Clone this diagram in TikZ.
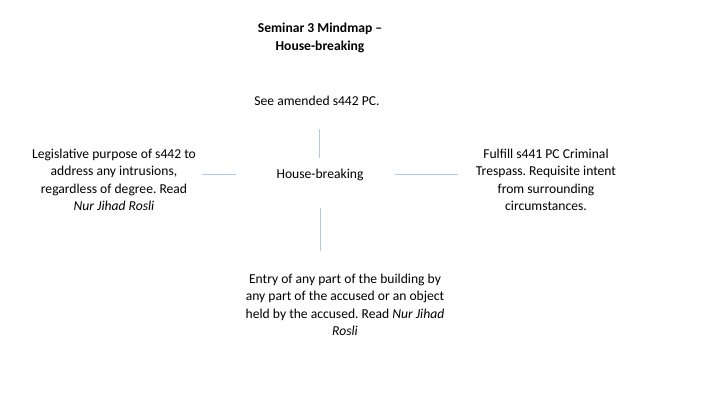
\documentclass[tikz,border=0pt]{standalone}
\usepackage{fontspec}
\setmainfont{Carlito}
\begin{document}
\frenchspacing
\begin{tikzpicture}[x=1pt,y=-1pt,
  txt/.style={align=center,font=\fontsize{13.6}{17.4}\selectfont,inner sep=0pt},
  conn/.style={draw={rgb,255:red,175;green,200;blue,228},line width=0.7pt}]
\useasboundingbox (0,0) rectangle (720,405);
\node[txt,font=\bfseries\fontsize{13.6}{17.4}\selectfont] (title) at (320,38) {Seminar 3 Mindmap –\\House-breaking};
\node[txt] (see) at (317,101) {See amended s442 PC.};
\node[txt] (hb) at (320,175) {House-breaking};
\node[txt] (left) at (114,180) {Legislative purpose of s442 to\\address any intrusions,\\regardless of degree. Read\\\textit{Nur Jihad Rosli}};
\node[txt] (right) at (546,180) {Fulfill s441 PC Criminal\\Trespass. Requisite intent\\from surrounding\\circumstances.};
\node[txt] (bot) at (345,305) {Entry of any part of the building by\\any part of the accused or an object\\held by the accused. Read \textit{Nur Jihad}\\\textit{Rosli}};
\coordinate (t1) at (319,129); \coordinate (t2) at (319,158);
\coordinate (l1) at (202,174); \coordinate (l2) at (236,174);
\coordinate (r1) at (395,174); \coordinate (r2) at (458,174);
\coordinate (b1) at (320,208); \coordinate (b2) at (320,251);
\draw[conn] (t1) -- (t2);
\draw[conn] (l1) -- (l2);
\draw[conn] (r1) -- (r2);
\draw[conn] (b1) -- (b2);
\end{tikzpicture}
\end{document}
